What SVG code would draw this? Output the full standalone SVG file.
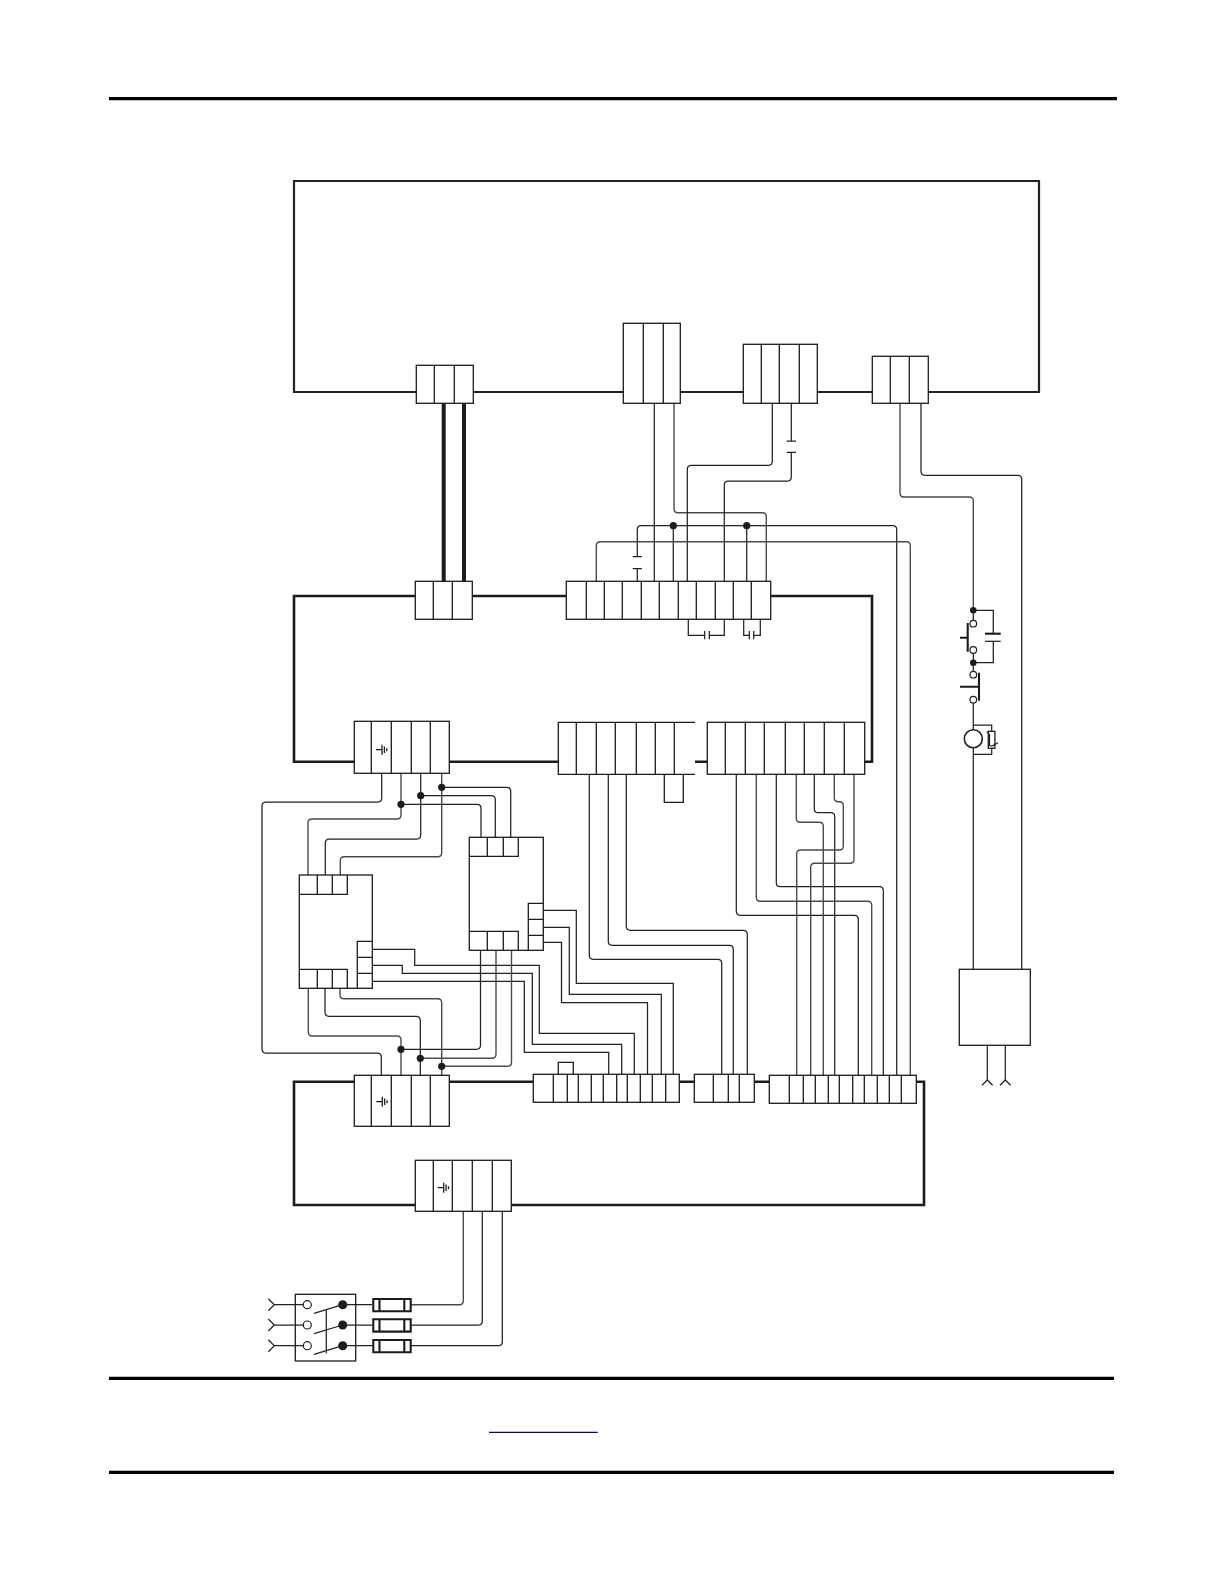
<svg xmlns="http://www.w3.org/2000/svg" width="1224" height="1584" viewBox="0 0 1224 1584">
<style>
.bg{fill:#fff}
.rule{stroke:#000;stroke-width:3.2;fill:none}
.frame{stroke:#222;stroke-width:2.2;fill:none}
.frame2{stroke:#1c1c1c;stroke-width:2.6;fill:none}
.box{fill:#fff;stroke:#1c1c1c;stroke-width:1.3}
.ln{stroke:#1c1c1c;stroke-width:1.3;fill:none}
.w{stroke:#222;stroke-width:1.25;fill:none}
.g{stroke:#4a4a4a;stroke-width:1.4;fill:none}
.thick{stroke:#1c1c1c;stroke-width:4;fill:none}
.dot{fill:#1c1c1c}
.open{fill:#fff;stroke:#222;stroke-width:1.2}
.hv{stroke:#1c1c1c;stroke-width:2.1;fill:none}
</style>
<defs>
<g id="gnd"><path class="ln" d="M-6 0H0M0 -5V5M2.4 -3.3V3.3M4.8 -1.5V1.5"/></g>
</defs>
<rect class="bg" width="1224" height="1584"/>
<g id="rules">
<path class="rule" d="M109 98.7H1117"/>
<path class="rule" d="M109 1378.3H1114"/>
<path class="rule" d="M109 1472.3H1114"/>
<path d="M489 1432.3H597.7" stroke="#00008b" stroke-width="1.2" fill="none"/>
</g>
<g id="frames">
<path class="frame" d="M416 392H294V181H1039V392H928M872 392H817M743 392H680M623 392H473"/>
<path class="frame2" d="M415 596H294V761.7H354M449 761.7H558M695 761.7H707M864.7 761.7H872V596H770.7M566 596H472"/>
<path class="frame2" d="M354 1081.7H294V1205H415M511 1205H924V1081.7H916M679 1081.7H694M754 1081.7H769M449 1081.7H533"/>
</g>
<g id="connectors">
<path class="thick" d="M443.7 403V581M464 403V581"/>
<path class="w" d="M654.3 403V581"/>
<path class="g" d="M674 403V508.7Q674 512.7 678 512.7H762.3Q766.3 512.7 766.3 516.7V581"/>
<path class="w" d="M772.3 403V461.3Q772.3 465.3 768.3 465.3H691.3Q687.3 465.3 687.3 469.3V581"/>
<path class="w" d="M791.3 403V441M786.7 441H796M786.7 452.3H796M791.3 452.3V477Q791.3 481 787.3 481H728.3Q724.3 481 724.3 485V581"/>
<path class="w" d="M637.3 556.7V529.7Q637.3 525.7 641.3 525.7H892.7Q896.7 525.7 896.7 529.7V1075M632.7 556.7H642M632.7 568.7H642M637.3 568.7V581"/>
<path class="w" d="M673.3 525.7V581M746.7 525.7V581"/>
<path class="g" d="M596.3 581V545.7Q596.3 541.7 600.3 541.7H906.3Q910.3 541.7 910.3 545.7V1075"/>
<path class="w" d="M688.3 619V635.3H704.7M704.7 631V639.3M709.3 631V639.3M709.3 635.3H724.3V619"/>
<path class="w" d="M743.7 619V635.3H749.3M749.3 631V639.3M753.7 631V639.3M753.7 635.3H760.3V619"/>
<path class="g" d="M900 403V493Q900 497 904 497H969.3Q973.3 497 973.3 501V610"/>
<path class="w" d="M921 403V471.3Q921 475.3 925 475.3H1017.7Q1021.7 475.3 1021.7 479.3V969"/>
<path class="w" d="M973.3 747.7V969"/>
<path class="w" d="M381.7 773V798Q381.7 802 377.7 802H266Q262 802 262 806V1049Q262 1053 266 1053H377.3Q381.3 1053 381.3 1057V1075"/>
<path class="g" d="M401 773V815Q401 819 397 819H312Q308 819 308 823V875"/>
<path class="w" d="M420.7 773V835Q420.7 839 416.7 839H329.3Q325.3 839 325.3 843V875"/>
<path class="g" d="M441.7 773V852.7Q441.7 856.7 437.7 856.7H344.3Q340.3 856.7 340.3 860.7V875"/>
<path class="w" d="M401 804.3H477Q481 804.3 481 808.3V837"/>
<path class="w" d="M420.7 795.7H491.3Q495.3 795.7 495.3 799.7V837"/>
<path class="w" d="M441.7 787.3H506.7Q510.7 787.3 510.7 791.3V837"/>
<path class="w" d="M543.3 910.3H576.3V983.3H673.3V1074"/>
<path class="w" d="M543.3 927.3H569.3V994.3H661.3V1074"/>
<path class="w" d="M543.3 942.3H561.5V1002.5H647.5V1074"/>
<path class="w" d="M372.3 949.3H414.7V965.3H539.3V1033.3H634.3V1074"/>
<path class="w" d="M372.3 965.3H402.3V973.3H532.3V1044.3H621.7V1074"/>
<path class="w" d="M372.3 981.3H524.3V1052.3H608.7V1074"/>
<path class="w" d="M480.5 950V1045.3Q480.5 1049.3 476.5 1049.3H401"/>
<path class="g" d="M496 950V1054.3Q496 1058.3 492 1058.3H420.3"/>
<path class="g" d="M511.5 950V1062.3Q511.5 1066.3 507.5 1066.3H441.7"/>
<path class="g" d="M308.3 988V1032Q308.3 1036 312.3 1036H397Q401 1036 401 1040V1075"/>
<path class="w" d="M325 988V1012.3Q325 1016.3 329 1016.3H416.3Q420.3 1016.3 420.3 1020.3V1075"/>
<path class="g" d="M340 988V994.7Q340 998.7 344 998.7H437.7Q441.7 998.7 441.7 1002.7V1075"/>
<path class="w" d="M589.3 774V955.3Q589.3 959.3 593.3 959.3H717.7Q721.7 959.3 721.7 963.3V1074"/>
<path class="w" d="M608.3 774V941.3Q608.3 945.3 612.3 945.3H729.3Q733.3 945.3 733.3 949.3V1074"/>
<path class="w" d="M626.3 774V926.3Q626.3 930.3 630.3 930.3H743.3Q747.3 930.3 747.3 934.3V1074"/>
<path class="w" d="M736.3 774V911.3Q736.3 915.3 740.3 915.3H854.3Q858.3 915.3 858.3 919.3V1075"/>
<path class="g" d="M756.3 774V897.3Q756.3 901.3 760.3 901.3H867.7Q871.7 901.3 871.7 905.3V1075"/>
<path class="w" d="M776.3 774V882.7Q776.3 886.7 780.3 886.7H879.3Q883.3 886.7 883.3 890.7V1075"/>
<path class="g" d="M796.3 774V818.3Q796.3 822.3 800.3 822.3H819.3Q823.3 822.3 823.3 826.3V1075"/>
<path class="w" d="M814.3 774V808.7Q814.3 812.7 818.3 812.7H830.7Q834.7 812.7 834.7 816.7V1075"/>
<path class="g" d="M834.3 774V797.7Q834.3 801.7 838.3 801.7H839.3Q843.3 801.7 843.3 805.7V846Q843.3 850 839.3 850H800.7Q796.7 850 796.7 854V1075"/>
<path class="g" d="M854 774V859.3Q854 863.3 850 863.3H814.7Q810.7 863.3 810.7 867.3V1075"/>
<path class="g" d="M463.3 1211V1300.7Q463.3 1304.7 459.3 1304.7H410.7"/>
<path class="w" d="M482.3 1211V1321Q482.3 1325 478.3 1325H410.7"/>
<path class="w" d="M502.3 1211V1341.7Q502.3 1345.7 498.3 1345.7H410.7"/>
<path class="w" d="M987.3 1045V1080M1005.3 1045V1080"/>
<path class="w" d="M982 1085.3L987.3 1080L992.6 1085.3M1000 1085.3L1005.3 1080L1010.6 1085.3"/>
</g>
<g id="junctions">
<circle class="dot" cx="673.3" cy="525.7" r="3.6"/><circle class="dot" cx="746.7" cy="525.7" r="3.6"/>
<circle class="dot" cx="401" cy="804.3" r="3.6"/><circle class="dot" cx="420.7" cy="795.7" r="3.6"/><circle class="dot" cx="441.7" cy="787.3" r="3.6"/>
<circle class="dot" cx="401" cy="1049.3" r="3.6"/><circle class="dot" cx="420.3" cy="1058.3" r="3.6"/><circle class="dot" cx="441.7" cy="1066.3" r="3.6"/>
</g>
<g id="T1"><rect class="box" x="416.3" y="365.3" width="57" height="38"/><path class="ln" d="M434.3 365.3V403.3M454.3 365.3V403.3"/></g>
<g id="T2"><rect class="box" x="623.3" y="323.3" width="57" height="80"/><path class="ln" d="M643.3 323.3V403.3M663.3 323.3V403.3"/></g>
<g id="T3"><rect class="box" x="743.3" y="344.3" width="74" height="59"/><path class="ln" d="M761.3 344.3V403.3M779.3 344.3V403.3M799.3 344.3V403.3"/></g>
<g id="T4"><rect class="box" x="872.3" y="356.3" width="56" height="47"/><path class="ln" d="M890.3 356.3V403.3M909.3 356.3V403.3"/></g>
<g id="K"><rect class="box" x="415.3" y="581.3" width="57" height="38"/><path class="ln" d="M433.3 581.3V619.3M452.3 581.3V619.3"/></g>
<g id="J"><rect class="box" x="566.3" y="581.3" width="204.4" height="38"/><path class="ln" d="M586.3 581.3V619.3M604.3 581.3V619.3M622.3 581.3V619.3M641.3 581.3V619.3M659.3 581.3V619.3M678.3 581.3V619.3M696.3 581.3V619.3M715.3 581.3V619.3M733.3 581.3V619.3M751.3 581.3V619.3"/></g>
<g id="A"><rect class="box" x="354.3" y="721.3" width="95" height="52"/><path class="ln" d="M371.3 721.3V773.3M391.3 721.3V773.3M411.3 721.3V773.3M430.3 721.3V773.3"/><use href="#gnd" x="382" y="749.7"/></g>
<g id="B"><path class="ln" d="M695 722.3H558.3V774.3H695M576.3 722.3V774.3M596.3 722.3V774.3M615.3 722.3V774.3M636.3 722.3V774.3M655.3 722.3V774.3M674.3 722.3V774.3"/><path class="ln" d="M664.3 774.3V802.3H683.3V774.3"/></g>
<g id="H"><rect class="box" x="707.3" y="722.3" width="157.4" height="52"/><path class="ln" d="M725.3 722.3V774.3M745.3 722.3V774.3M764.3 722.3V774.3M785.3 722.3V774.3M804.3 722.3V774.3M824.3 722.3V774.3M844.3 722.3V774.3"/></g>
<g id="moduleLeft"><rect class="box" x="299.3" y="875" width="73" height="113.3"/><path class="ln" d="M299.3 894.3H347.3V875M317.3 875V894.3M332.3 875V894.3M299.3 969.3H347.3V988.3M317.3 969.3V988.3M332.3 969.3V988.3M357.3 988.3V941.3H372.3M357.3 957.3H372.3M357.3 973.3H372.3"/></g>
<g id="moduleRight"><rect class="box" x="469.3" y="837.3" width="74" height="113"/><path class="ln" d="M469.3 856.3H518.3V837.3M487.3 837.3V856.3M503.3 837.3V856.3M469.3 931.3H518.3V950.3M487.3 931.3V950.3M503.3 931.3V950.3M528.3 950.3V903.3H543.3M528.3 919.3H543.3M528.3 935.3H543.3"/></g>
<g id="C"><rect class="box" x="354.3" y="1075.3" width="95" height="51"/><path class="ln" d="M371.3 1075.3V1126.3M391.3 1075.3V1126.3M411.3 1075.3V1126.3M430.3 1075.3V1126.3"/><use href="#gnd" x="382.3" y="1101.7"/></g>
<g id="E"><rect class="box" x="533.3" y="1074.3" width="146" height="28"/><path class="ln" d="M553.3 1074.3V1102.3M567.3 1074.3V1102.3M578.3 1074.3V1102.3M591.3 1074.3V1102.3M603.3 1074.3V1102.3M616.7 1074.3V1102.3M627.3 1074.3V1102.3M640.3 1074.3V1102.3M652.3 1074.3V1102.3M665.7 1074.3V1102.3"/><path class="ln" d="M558.3 1074.3V1062.3H573.3V1074.3"/></g>
<g id="F"><rect class="box" x="694.3" y="1074.3" width="60" height="28"/><path class="ln" d="M713.3 1074.3V1102.3M728.3 1074.3V1102.3M739.3 1074.3V1102.3"/></g>
<g id="G"><rect class="box" x="769.3" y="1075.3" width="147" height="28"/><path class="ln" d="M789.3 1075.3V1103.3M803.3 1075.3V1103.3M815.3 1075.3V1103.3M828.3 1075.3V1103.3M839.3 1075.3V1103.3M852.7 1075.3V1103.3M864.3 1075.3V1103.3M877.3 1075.3V1103.3M889.3 1075.3V1103.3M901.3 1075.3V1103.3"/></g>
<g id="D"><rect class="box" x="415.3" y="1160.3" width="96" height="51"/><path class="ln" d="M433.3 1160.3V1211.3M452.3 1160.3V1211.3M472.3 1160.3V1211.3M492.3 1160.3V1211.3"/><use href="#gnd" x="443.7" y="1187.7"/></g>
<g id="switches">
<path class="w" d="M973.3 610.3H993.3V633.7M993.3 641.3V662.7H973.3M973.3 610.3V620.4M973.3 653.3V671.4M973.3 703V729.7"/>
<path class="hv" d="M985 633.7H1000.7"/>
<path class="w" d="M985 641.3H1000.7"/>
<path class="hv" d="M967.7 623V651.7M960 637.7H967.7M979 672.7V700.7M960 686.7H979"/>
<circle class="dot" cx="973.3" cy="610.3" r="3.3"/><circle class="dot" cx="973.3" cy="662.7" r="3.3"/>
<circle class="open" cx="973.3" cy="623.7" r="3.3"/><circle class="open" cx="973.3" cy="650" r="3.3"/><circle class="open" cx="973.3" cy="674.7" r="3.3"/><circle class="open" cx="973.3" cy="699.7" r="3.3"/>
</g>
<g id="motor">
<circle cx="973.3" cy="738.7" r="9" fill="#fff" stroke="#222" stroke-width="1.6"/>
<path class="w" d="M973.3 725H991.7V731.3M991.7 748.3V754.3H973.3"/>
<rect class="box" x="988.3" y="731.3" width="6.6" height="17"/>
<path class="w" d="M986.7 731.7Q989 733 989.5 735V745.5L992 746L998 742.7"/>
</g>
<g id="supply"><rect class="box" x="959.3" y="969.3" width="71" height="76"/></g>
<g id="disconnect">
<rect class="box" x="295.3" y="1294.3" width="60.4" height="66.7"/>
<path class="w" d="M268.3 1298.7L274.3 1304.7L268.3 1310.7M274.3 1304.7H303M268.3 1319L274.3 1325L268.3 1331M274.3 1325H303M268.3 1339.7L274.3 1345.7L268.3 1351.7M274.3 1345.7H303"/>
<circle class="open" cx="307.3" cy="1304.7" r="4"/><circle class="open" cx="307.3" cy="1325" r="4"/><circle class="open" cx="307.3" cy="1345.7" r="4"/>
<circle class="dot" cx="342.7" cy="1304.7" r="4.5"/><circle class="dot" cx="342.7" cy="1325" r="4.5"/><circle class="dot" cx="342.7" cy="1345.7" r="4.5"/>
<path class="w" d="M314 1313.3L342.7 1304.7M314 1333.6L342.7 1325M314 1354.3L342.7 1345.7M326.3 1309.3V1353.3M342.7 1304.7H372.3M342.7 1325H372.3M342.7 1345.7H372.3"/>
</g>
<g id="fuses">
<path class="hv" d="M373.3 1299H410.7V1311.3H373.3ZM379.5 1299V1311.3M404.3 1299V1311.3"/>
<path class="hv" d="M373.3 1319.3H410.7V1331.6H373.3ZM379.5 1319.3V1331.6M404.3 1319.3V1331.6"/>
<path class="hv" d="M373.3 1340H410.7V1352.3H373.3ZM379.5 1340V1352.3M404.3 1340V1352.3"/>
</g>
</svg>
